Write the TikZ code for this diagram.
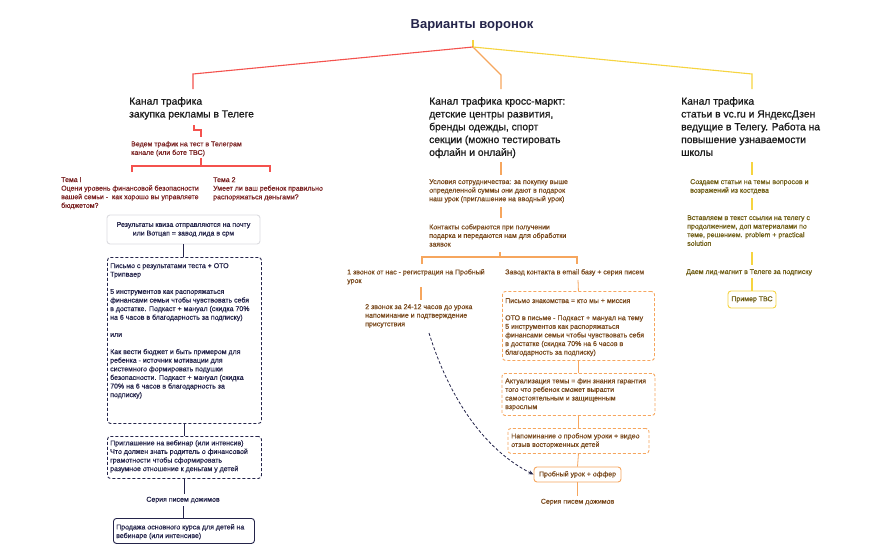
\documentclass[tikz,border=0pt]{standalone}
\usepackage{fontspec}
\setmainfont{Liberation Sans}
\newfontfamily\semifont[FakeBold=0.6]{Liberation Sans}
\newfontfamily\headfont[FakeBold=0.9]{Liberation Sans}
\usetikzlibrary{arrows.meta}
\definecolor{navy}{HTML}{24244A}
\definecolor{lred}{HTML}{F4524E}
\definecolor{lorange}{HTML}{F6A65E}
\definecolor{lyellow}{HTML}{F6D440}
\definecolor{tred}{HTML}{7A2222}
\definecolor{tbrown}{HTML}{7A4A1E}
\definecolor{tolive}{HTML}{6E5C12}
\definecolor{ink}{HTML}{1C1C1C}
\definecolor{lgray}{HTML}{DCDCE0}
\begin{document}
\begin{tikzpicture}[x=1pt,y=-1pt,
 txt/.style={anchor=north west, inner sep=0pt, align=left, font=\semifont\fontsize{7}{8.6}\selectfont},
 head/.style={anchor=north west, inner sep=0pt, align=left, text=ink, font=\headfont\fontsize{10.3}{12.8}\selectfont},
 boxshape/.style={anchor=north west, inner sep=0pt, rounded corners=3pt, line width=0.9pt},
 cbox/.style={inner sep=0pt, rounded corners=3pt, line width=0.9pt, align=center, font=\semifont\fontsize{7}{8.6}\selectfont},
 dsh/.style={dash pattern=on 3pt off 2pt},
 tree/.style={line width=1.1pt},
 link/.style={line width=0.8pt},
 lbl/.style={inner sep=0pt, minimum height=12pt, font=\semifont\fontsize{7}{8.6}\selectfont}]
\fill[white] (0,0) rectangle (890,551);
\useasboundingbox (0,0) rectangle (890,551);

% title and top tree
\node[font=\bfseries\fontsize{13}{15}\selectfont, text=navy] (title) at (472,25) {Варианты воронок};
\coordinate (rtop) at (473,40);
\coordinate (root) at (473,47);
\coordinate (h1top) at (193,89);
\coordinate (h2top) at (501,89);
\coordinate (h3top) at (752,89);
\draw[lyellow, tree] (rtop) -- (root);
\draw[lred, tree] (root) -- (193,74) -- (h1top);
\draw[lorange, tree] (root) -- (501,75) -- (h2top);
\draw[lyellow, tree] (root) -- (752,74) -- (h3top);

% ---------------- left column ----------------
\node[head] (h1) at (129,97) {Канал трафика\\закупка рекламы в Телеге};
\node[txt, text=tred] (t1) at (131,141) {Ведем трафик на тест в Телеграм\\канале (или боте ТВС)};
\node[txt, text=tred] (tema1) at (61,177) {Тема I\\Оцени уровень финансовой безопасности\\вашей семьи -\ \ как хорошо вы управляете\\бюджетом?};
\node[txt, text=tred] (tema2) at (213,177) {Тема 2\\Умеет ли ваш ребенок правильно\\распоряжаться деньгами?};
\draw[lred, tree] (194,125) -- (194,130) -- (201,130) -- (201,137);
\draw[lred, tree] (201,158) -- (201,166);
\draw[lred, tree] (132,172) -- (132,166) -- (270,166) -- (270,172);

\node[cbox, draw=lgray, text=navy, minimum width=153pt, minimum height=29pt] (b1) at (183.5,229.5) {Результаты квиза отправляются на почту\\или Вотцап = завод лида в срм};
\node[boxshape, draw=navy, dsh, minimum width=154pt, minimum height=166pt] (b2) at (107,257) {};
\node[txt, text=navy] (b2t) at (110,263) {Письмо с результатами теста + ОТО\\Трипваер\\\mbox{}\\5 инструментов как распоряжаться\\финансами семьи чтобы чувствовать себя\\в достатке. Подкаст + мануал (скидка 70\%\\на 6 часов в благодарность за подписку)\\\mbox{}\\или\\\mbox{}\\Как вести бюджет и быть примером для\\ребенка - источник мотивации для\\системного формировать подушки\\безопасности. Подкаст + мануал (скидка\\70\% на 6 часов в благодарность за\\подписку)};
\node[boxshape, draw=navy, dsh, minimum width=154pt, minimum height=42pt] (b3) at (107,436) {};
\node[txt, text=navy] (b3t) at (110,440) {Приглашение на вебинар (или интенсив)\\Что должен знать родитель о финансовой\\грамотности чтобы сформировать\\разумное отношение к деньгам у детей};
\node[lbl, text=navy] (s1) at (183,500) {Серия писем дожимов};
\node[boxshape, draw=navy, minimum width=141pt, minimum height=25pt] (b4) at (113,518) {};
\node[txt, text=navy] (b4t) at (116,524) {Продажа основного курса для детей на\\вебинаре (или интенсиве)};
\draw[navy, link] (b1.south) -- (b1.south |- b2.north);
\draw[navy, link] (b2.south) -- (b3.north);
\draw[navy, link] (b3.south) -- (b3.south |- s1.north);
\draw[navy, link] (s1.south) -- (s1.south |- b4.north);

% ---------------- middle column ----------------
\node[head] (h2) at (429,97) {Канал трафика кросс-маркт:\\детские центры развития,\\бренды одежды, спорт\\секции (можно тестировать\\офлайн и онлайн)};
\node[txt, text=tbrown] (m1) at (429,179) {Условия сотрудничества: за покупку выше\\определенной суммы они дают в подарок\\наш урок (приглашение на вводный урок)};
\node[txt, text=tbrown] (m2) at (429,224) {Контакты собираются при получении\\подарка и передаются нам для обработки\\заявок};
\node[txt, text=tbrown] (m3) at (347,269) {1 звонок от нас - регистрация на Пробный\\урок};
\node[txt, text=tbrown] (m4) at (505,269) {Завод контакта в email базу + серия писем};
\node[txt, text=tbrown] (m5) at (365,304) {2 звонок за 24-12 часов до урока\\напоминание и подтверждение\\присутствия};
\draw[lorange, tree] (501,162) -- (501,175);
\draw[lorange, tree] (501,207) -- (501,218);
\draw[lorange, tree] (500,252) -- (500,257);
\draw[lorange, tree] (422,264) -- (422,257) -- (577,257) -- (577,264);
\draw[lorange, tree] (421,287) -- (421,300);

\node[boxshape, draw=lorange, dsh, minimum width=152pt, minimum height=69pt] (mb1) at (502,291) {};
\node[txt, text=tbrown] (mb1t) at (505,298) {Письмо знакомства = кто мы + миссия\\\mbox{}\\ОТО в письме - Подкаст + мануал на тему\\5 инструментов как распоряжаться\\финансами семьи чтобы чувствовать себя\\в достатке (скидка 70\% на 6 часов в\\благодарность за подписку)};
\node[boxshape, draw=lorange, dsh, minimum width=153pt, minimum height=42pt] (mb2) at (501.5,373) {};
\node[txt, text=tbrown] (mb2t) at (505,378) {Актуализация темы = фин знания гарантия\\того что ребенок сможет вырасти\\самостоятельным и защищенным\\взрослым};
\node[boxshape, draw=lorange, dsh, minimum width=141pt, minimum height=25pt] (mb3) at (507.5,428) {};
\node[txt, text=tbrown] (mb3t) at (511,433) {Напоминание о пробном уроки + видео\\отзыв восторженных детей};
\node[cbox, draw=lorange, text=tbrown, minimum width=87pt, minimum height=15pt] (mb4) at (577.5,474.5) {Пробный урок + оффер};
\node[lbl, text=tbrown] (s2) at (577.5,502) {Серия писем дожимов};
\coordinate (m4dn) at (578,280);
\draw[lorange, link] (m4dn) -- (mb1.north);
\draw[lorange, link] (mb1.south) -- (mb1.south |- mb2.north);
\draw[lorange, link] (mb2.south) -- (mb2.south |- mb3.north);
\draw[lorange, link] (mb3.south) -- (mb4.north);
\draw[lorange, link] (mb4.south) -- (s2.north);
\coordinate (a0) at (429,333);
\draw[navy, link, dsh, -{Stealth[length=5pt,width=4pt]}] (a0) .. controls (450,400) and (485,450) .. (mb4.west);

% ---------------- right column ----------------
\node[head] (h3) at (681,97) {Канал трафика\\статьи в vc.ru и ЯндексДзен\\ведущие в Телегу. Работа на\\повышение узнаваемости\\школы};
\node[txt, text=tolive] (r1) at (690,179) {Создаем статьи на темы вопросов и\\возражений из костдева};
\node[txt, text=tolive] (r2) at (687,215) {Вставляем в текст ссылки на телегу с\\продолжением, доп материалами по\\теме, решением. problem + practical\\solution};
\node[txt, text=tolive] (r3) at (686,269) {Даем лид-магнит в Телеге за подписку};
\node[cbox, draw=lyellow, text=tolive, minimum width=48pt, minimum height=17pt] (rb) at (752,299.5) {Пример ТВС};
\draw[lyellow, tree] (752,162) -- (752,175);
\draw[lyellow, tree] (752,198) -- (752,210);
\draw[lyellow, tree] (752,252) -- (752,265);
\coordinate (r3dn) at (752,278);
\draw[lyellow, tree] (r3dn) -- (rb.north);
\end{tikzpicture}
\end{document}
